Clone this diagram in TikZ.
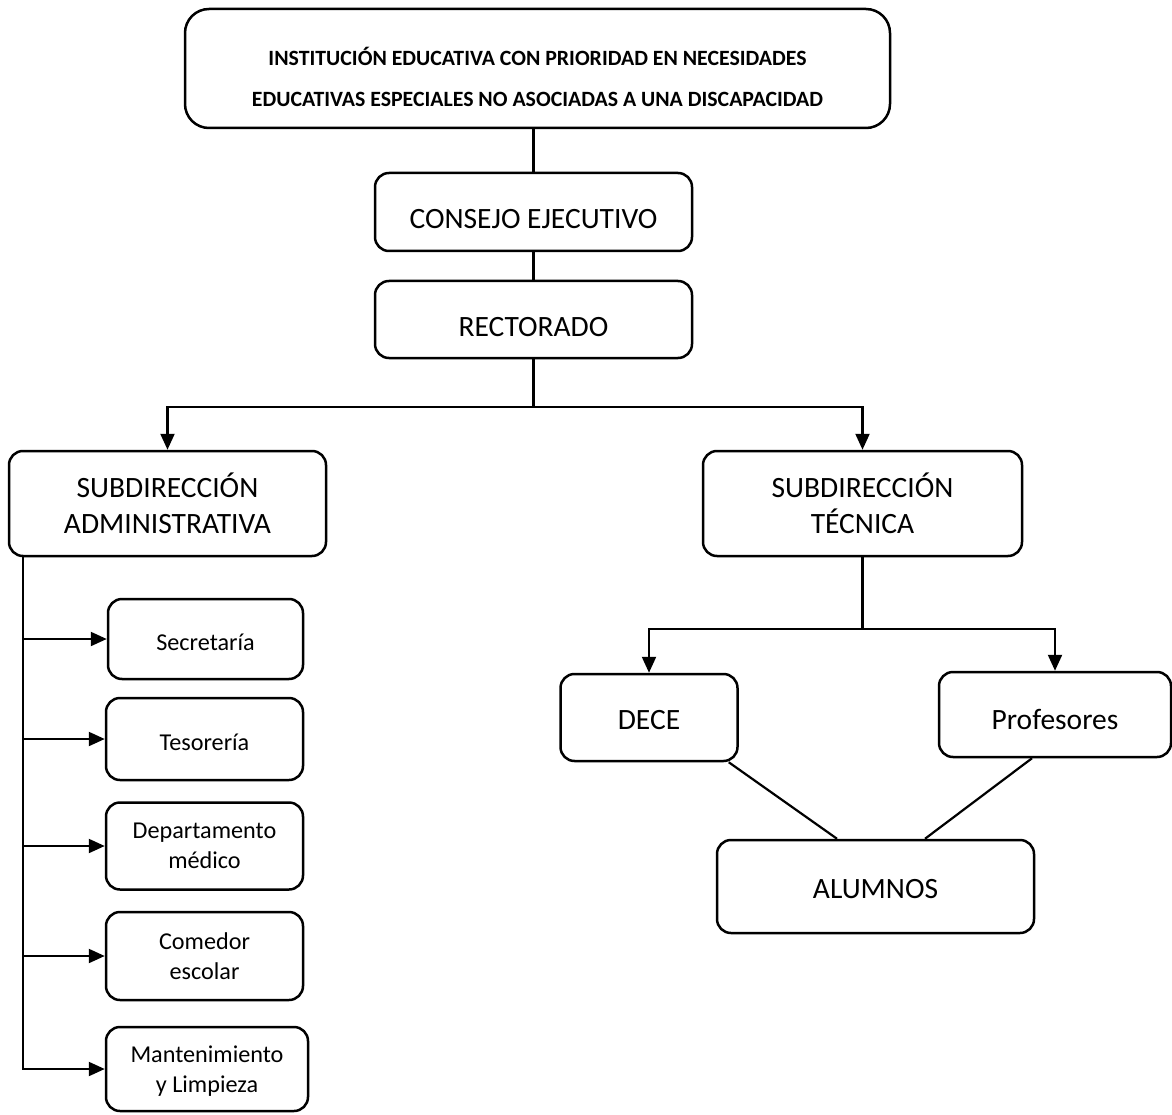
\documentclass[tikz,border=0pt]{standalone}
\usepackage{fontspec}
\setmainfont{Carlito}
\usepackage{tikz}
\usetikzlibrary{arrows.meta}
\newcommand{\headfont}{\bfseries\fontsize{21.8}{41}\selectfont}
\newcommand{\unitfont}{\fontsize{29.5}{35.5}\selectfont}
\newcommand{\deptfont}{\fontsize{24.2}{29.5}\selectfont}
\tikzstyle{unit}=[draw=black,line width=2.5pt,rounded corners=14pt,inner sep=0pt,align=center,font=\unitfont]
\tikzstyle{dept}=[unit,font=\deptfont,minimum width=197pt]
\tikzstyle{head}=[unit,rounded corners=24pt,font=\headfont]
\tikzstyle{arrow}=[-{Triangle[length=16pt,width=14pt]}]
\tikzset{every picture/.style={
    line width=2.2pt
  }
}

\begin{document}
\begin{tikzpicture}[x=1pt,y=-1pt]
      \useasboundingbox (0,0) rectangle (1172,1115);
      \node[head, minimum width=705pt, minimum height=119pt] at (537.5,68.5) (inst) {\rule{0pt}{36pt}INSTITUCIÓN EDUCATIVA CON PRIORIDAD EN NECESIDADES\\EDUCATIVAS ESPECIALES NO ASOCIADAS A UNA DISCAPACIDAD};
      \node[unit, minimum width=317pt, minimum height=78pt, text height=34pt, text depth=0pt] at (533.5,212) (consejo) {CONSEJO EJECUTIVO};
      \node[unit, minimum width=317pt, minimum height=77pt, text height=34pt, text depth=0pt] at (533.5,319.5) (rector) {RECTORADO};
      \node[unit, minimum width=317pt, minimum height=105pt] at (167.5,503.5) (admin) {SUBDIRECCIÓN\\ADMINISTRATIVA};
      \node[unit, minimum width=319pt, minimum height=105pt] at (862.5,503.5) (tecnica) {SUBDIRECCIÓN\\TÉCNICA};
      \node[dept, minimum width=195pt, minimum height=80pt, text height=23.4pt, text depth=0pt] at (205.5,639) (secre) {Secretaría};
      \node[dept, minimum height=82pt, text height=23.4pt, text depth=0pt] at (204.5,739) (tesor) {Tesorería};
      \node[dept, minimum height=87pt] at (204.5,846) (medico) {Departamento\\médico};
      \node[dept, minimum height=88pt] at (204.5,956) (comedor) {Comedor\\escolar};
      \node[dept, minimum width=202pt, minimum height=84pt, text depth=0pt] at (207,1069) (manten) {Mantenimiento\\y Limpieza};
      \node[unit, minimum width=177pt, minimum height=87pt, text height=23.4pt, text depth=0pt] at (649,717.5) (dece) {DECE};
      \node[unit, minimum width=232pt, minimum height=85pt, text height=29.4pt, text depth=0pt] at (1055,714.5) (prof) {Profesores};
      \node[unit, minimum width=317pt, minimum height=93pt, text height=23.4pt, text depth=0pt] at (875.5,886.5) (alumnos) {ALUMNOS};
      \coordinate (rfork) at (533.5,407);
      \coordinate (tfork) at (862.5,629);
      \coordinate (trunk) at (23,556);
      \draw (consejo.north) -- (consejo.north |- inst.south);
      \draw (consejo) -- (rector);
      \draw (rector) -- (rfork);
      \draw[arrow] (rfork) -| (admin.north);
      \draw[arrow] (rfork) -| (tecnica.north);
      \draw (tecnica) -- (tfork);
      \draw[arrow] (tfork) -| (dece.north);
      \draw[arrow] (tfork) -| (prof.north);
      \draw[arrow] (trunk) |- (manten.west);
      \draw[arrow] (trunk |- secre.west) -- (secre.west);
      \draw[arrow] (trunk |- tesor.west) -- (tesor.west);
      \draw[arrow] (trunk |- medico.west) -- (medico.west);
      \draw[arrow] (trunk |- comedor.west) -- (comedor.west);
      \draw ([xshift=-10pt]dece.south east) -- ([xshift=-38.5pt]alumnos.north);
      \draw ([xshift=-23pt]prof.south) -- ([xshift=49.5pt]alumnos.north);
    \end{tikzpicture}
\end{document}
